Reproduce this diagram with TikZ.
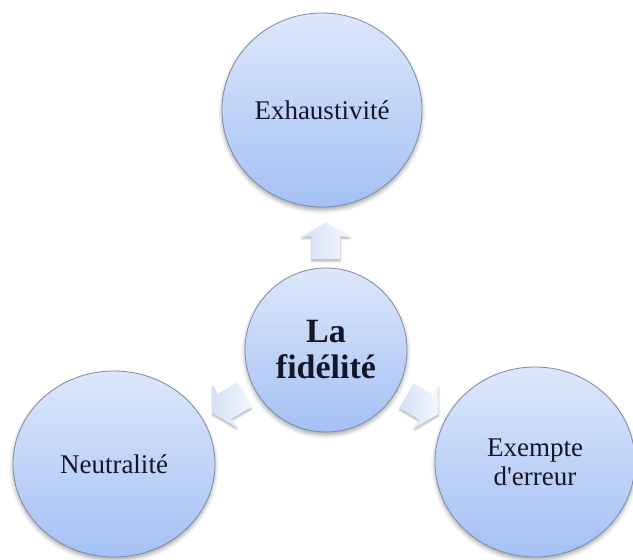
\documentclass[tikz,border=0pt]{standalone}
\usepackage{fontspec}
\setmainfont{Liberation Serif}
\usetikzlibrary{shapes.geometric,shapes.arrows,shadows.blur}

\definecolor{bubbletop}{HTML}{DDE7FA}
\definecolor{bubblebot}{HTML}{A4C1F4}
\definecolor{bubbleline}{HTML}{7D8CA6}
\definecolor{arrowtop}{HTML}{F3F6FD}
\definecolor{arrowbot}{HTML}{D6E1F7}
\definecolor{ink}{HTML}{15162A}

\tikzset{
  bubble/.style={ellipse, draw=bubbleline, line width=0.8pt,
    top color=bubbletop, bottom color=bubblebot, text=ink,
    align=center, inner sep=0pt, outer sep=0pt,
    font=\fontsize{27}{29}\selectfont,
    blur shadow={shadow xshift=0pt, shadow yshift=-3pt,
      shadow blur radius=4pt, shadow opacity=35}},
  hub/.style={bubble, font=\bfseries\fontsize{34}{36}\selectfont},
  pointer/.style={single arrow, draw=none, minimum height=30pt,
    inner sep=14pt, single arrow head extend=10pt,
    single arrow tip angle=120, single arrow head indent=0pt,
    left color=arrowbot, right color=arrowtop,
    blur shadow={shadow xshift=0pt, shadow yshift=-2pt,
      shadow blur radius=2pt, shadow opacity=30}}
}

\begin{document}
\begin{tikzpicture}[x=1pt, y=-1pt]
  \useasboundingbox (0,0) rectangle (633,560);

  % outer qualities
  \node[bubble, minimum width=200pt, minimum height=194pt] (exh) at (322,110) {Exhaustivité};
  \node[bubble, minimum width=202pt, minimum height=186pt] (neu) at (114,464) {Neutralité};
  \node[bubble, minimum width=200pt, minimum height=190pt] (err) at (535,462) {Exempte\\d\textquotesingle erreur};

  % central notion
  \node[hub, minimum width=162pt, minimum height=164pt] (fid) at (326,350) {La\\fidélité};

  % arrows pointing outward from the centre
  \node[pointer, rotate=90]  (toexh) at (326,245) {};
  \node[pointer, rotate=210] (toneu) at (232,402) {};
  \node[pointer, rotate=330] (toerr) at (419,403) {};
\end{tikzpicture}
\end{document}
